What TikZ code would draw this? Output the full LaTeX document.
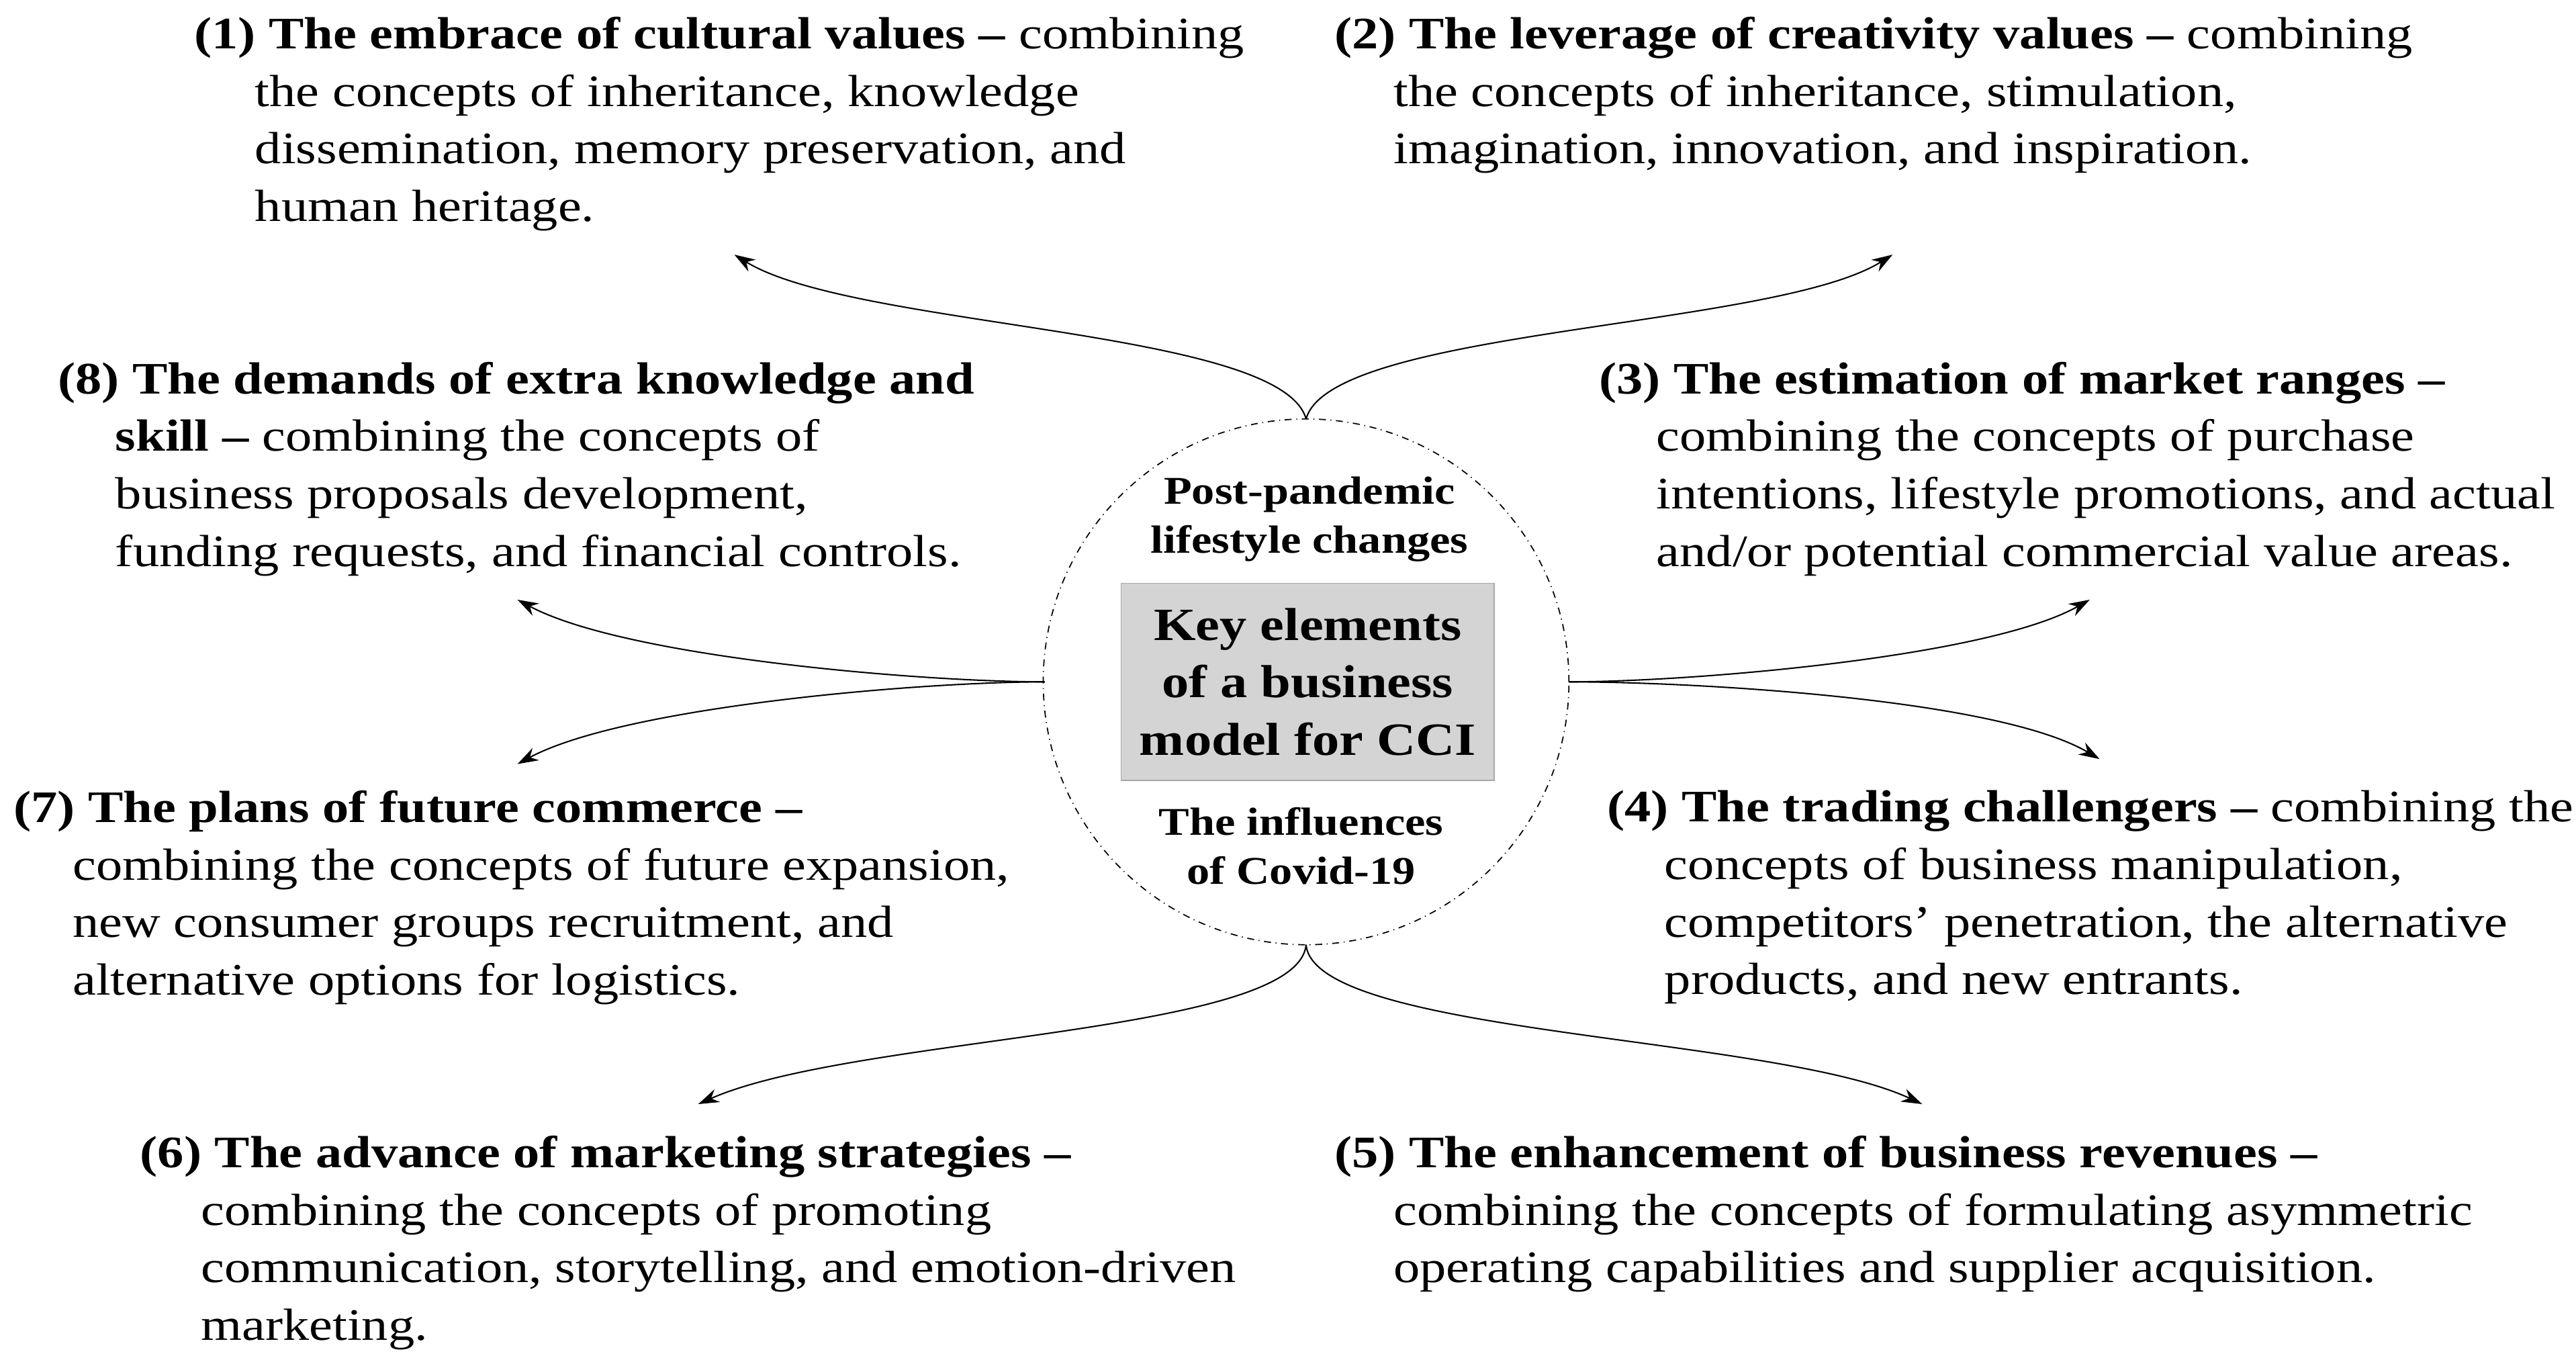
\documentclass[tikz,border=0pt]{standalone}
\usepackage{fontspec}
\setmainfont{Liberation Serif}[FakeStretch=1.17]
\usetikzlibrary{arrows.meta}
\tikzset{
 blk/.style={anchor=north west,align=left,inner sep=0pt,font=\fontsize{19.5}{24.9}\selectfont},
 conn/.style={-{Stealth[length=9pt,width=6pt]},line width=0.6pt},
 ctr/.style={align=center,inner sep=0pt,font=\bfseries\fontsize{17}{21.3}\selectfont}
}
\begin{document}
\begin{tikzpicture}[x=0.025cm,y=-0.025cm]
\useasboundingbox (0,0) rectangle (1568,830);
\node[circle,draw,dash dot,line width=0.5pt,minimum size=320*0.025cm,inner sep=0pt] (c) at (795,415) {};
\node[draw=gray!70,fill=black!17,minimum width=227*0.025cm,minimum height=120*0.025cm,align=center,inner sep=0pt,font=\bfseries\fontsize{20}{24.9}\selectfont] (k) at (796,415) {Key elements\\of a business\\model for CCI};
\node[ctr] (pp) at (797,316) {Post-pandemic\\lifestyle changes};
\node[ctr] (inf) at (792,515) {The influences\\of Covid-19};
\coordinate (ct) at (795,255); \coordinate (cb) at (795,575);
\coordinate (cl) at (636,415); \coordinate (cr) at (955,415);
\coordinate (a1) at (447,155); \coordinate (a2) at (1152,155);
\coordinate (a8) at (315,365); \coordinate (a7) at (315,465);
\coordinate (a3) at (1272,365); \coordinate (a4) at (1278,462);
\coordinate (a6) at (425,672); \coordinate (a5) at (1170,672);
\draw[conn] (ct) .. controls (780,200) and (520,200) .. (a1);
\draw[conn] (ct) .. controls (810,200) and (1080,200) .. (a2);
\draw[conn] (cl) .. controls (560,415) and (380,400) .. (a8);
\draw[conn] (cl) .. controls (560,415) and (380,430) .. (a7);
\draw[conn] (cr) .. controls (1030,415) and (1210,400) .. (a3);
\draw[conn] (cr) .. controls (1030,415) and (1215,425) .. (a4);
\draw[conn] (cb) .. controls (790,630) and (520,630) .. (a6);
\draw[conn] (cb) .. controls (800,630) and (1080,630) .. (a5);
\node[blk] (t1) at (118,10) {\textbf{(1) The embrace of cultural values –} combining\\\hspace*{37\dimexpr0.025cm}the concepts of inheritance, knowledge\\\hspace*{37\dimexpr0.025cm}dissemination, memory preservation, and\\\hspace*{37\dimexpr0.025cm}human heritage.};
\node[blk] (t2) at (812,10) {\textbf{(2) The leverage of creativity values –} combining\\\hspace*{36\dimexpr0.025cm}the concepts of inheritance, stimulation,\\\hspace*{36\dimexpr0.025cm}imagination, innovation, and inspiration.};
\node[blk] (t8) at (35,220) {\textbf{(8) The demands of extra knowledge and}\\\hspace*{35\dimexpr0.025cm}\textbf{skill –} combining the concepts of\\\hspace*{35\dimexpr0.025cm}business proposals development,\\\hspace*{35\dimexpr0.025cm}funding requests, and financial controls.};
\node[blk] (t3) at (973,220) {\textbf{(3) The estimation of market ranges –}\\\hspace*{35\dimexpr0.025cm}combining the concepts of purchase\\\hspace*{35\dimexpr0.025cm}intentions, lifestyle promotions, and actual\\\hspace*{35\dimexpr0.025cm}and/or potential commercial value areas.};
\node[blk] (t7) at (8,481) {\textbf{(7) The plans of future commerce –}\\\hspace*{36\dimexpr0.025cm}combining the concepts of future expansion,\\\hspace*{36\dimexpr0.025cm}new consumer groups recruitment, and\\\hspace*{36\dimexpr0.025cm}alternative options for logistics.};
\node[blk] (t4) at (978,481) {\textbf{(4) The trading challengers –} combining the\\\hspace*{35\dimexpr0.025cm}concepts of business manipulation,\\\hspace*{35\dimexpr0.025cm}competitors’ penetration, the alternative\\\hspace*{35\dimexpr0.025cm}products, and new entrants.};
\node[blk] (t6) at (85,691) {\textbf{(6) The advance of marketing strategies –}\\\hspace*{37\dimexpr0.025cm}combining the concepts of promoting\\\hspace*{37\dimexpr0.025cm}communication, storytelling, and emotion-driven\\\hspace*{37\dimexpr0.025cm}marketing.};
\node[blk] (t5) at (812,691) {\textbf{(5) The enhancement of business revenues –}\\\hspace*{36\dimexpr0.025cm}combining the concepts of formulating asymmetric\\\hspace*{36\dimexpr0.025cm}operating capabilities and supplier acquisition.};
\end{tikzpicture}
\end{document}
